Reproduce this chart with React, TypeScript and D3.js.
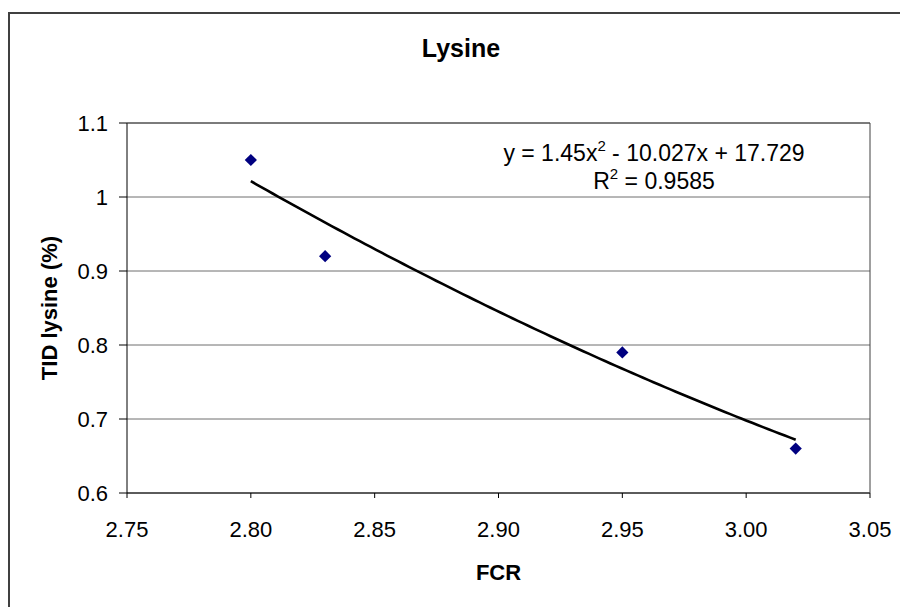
import React from "react";
import * as d3 from "d3";

const fcr = [2.8, 2.83, 2.95, 3.02];
const lysine = [1.05, 0.92, 0.79, 0.66];
const xTicks = [2.75, 2.8, 2.85, 2.9, 2.95, 3.0, 3.05];
const yTicks = [0.6, 0.7, 0.8, 0.9, 1.0, 1.1];
const trendCoef = [1.45, -10.027, 17.729]; // a, b, c
const r2Label = "0.9585";

const W = 900;
const H = 607;
const left = 127;
const right = 870;
const top = 123;
const bottom = 493;
const font = "Liberation Sans, Arial, sans-serif";

export default function App() {
  const x = d3.scaleLinear().domain([2.75, 3.05]).range([left, right]);
  const y = d3.scaleLinear().domain([0.6, 1.1]).range([bottom, top]);

  const xMin = d3.min(fcr) as number;
  const xMax = d3.max(fcr) as number;
  const samples = d3.range(0, 101).map((i) => xMin + ((xMax - xMin) * i) / 100);
  const trendPts: [number, number][] = samples.map((v) => [
    v,
    trendCoef[0] * v * v + trendCoef[1] * v + trendCoef[2],
  ]);
  const line = d3
    .line<[number, number]>()
    .x((d) => x(d[0]))
    .y((d) => y(d[1]));

  const diamond = d3.symbol().type(d3.symbolDiamond2).size(95)();

  return (
    <svg
      width={W}
      height={H}
      style={{ position: "absolute", left: 0, top: 0, background: "#fff" }}
      fontFamily={font}
    >
      <rect x={0} y={0} width={W} height={H} fill="#fff" />
      <rect x={9} y={13} width={W + 20} height={H + 20} fill="#fff" stroke="#404040" strokeWidth={2} />
      <text x={461} y={57} textAnchor="middle" fontSize={25} fontWeight="bold">
        Lysine
      </text>

      {yTicks.map((t) => (
        <g key={"y" + t}>
          <line x1={left} x2={right} y1={y(t)} y2={y(t)} stroke="#6f6f6f" strokeWidth={1} />
          <line x1={119} x2={left} y1={y(t)} y2={y(t)} stroke="#000" strokeWidth={1} />
          <text x={108} y={y(t) + 8} textAnchor="end" fontSize={22}>
            {t === 1 ? "1" : d3.format(".1f")(t)}
          </text>
        </g>
      ))}
      {xTicks.map((t) => (
        <g key={"x" + t}>
          <line x1={x(t)} x2={x(t)} y1={bottom} y2={bottom + 5} stroke="#000" strokeWidth={1} />
          <text x={x(t)} y={537} textAnchor="middle" fontSize={22}>
            {d3.format(".2f")(t)}
          </text>
        </g>
      ))}
      <line x1={left} x2={left} y1={top} y2={bottom} stroke="#000" strokeWidth={1} />
      <line x1={left} x2={right} y1={bottom} y2={bottom} stroke="#000" strokeWidth={1} />
      <line x1={right} x2={right} y1={top} y2={bottom} stroke="#404040" strokeWidth={1} />
      <line x1={left} x2={right} y1={top} y2={top} stroke="#404040" strokeWidth={1} />

      <path d={line(trendPts) || ""} fill="none" stroke="#000" strokeWidth={2.6} />

      {fcr.map((v, i) => (
        <path
          key={"p" + i}
          d={diamond || ""}
          transform={`translate(${x(v)},${y(lysine[i])})`}
          fill="#000080"
        />
      ))}

      <text x={654} y={161} textAnchor="middle" fontSize={23}>
        {`y = ${trendCoef[0]}x`}
        <tspan dy={-10} fontSize={15}>2</tspan>
        <tspan dy={10}>{` - ${Math.abs(trendCoef[1])}x + ${trendCoef[2]}`}</tspan>
      </text>
      <text x={654} y={189} textAnchor="middle" fontSize={23}>
        R<tspan dy={-10} fontSize={15}>2</tspan>
        <tspan dy={10}>{` = ${r2Label}`}</tspan>
      </text>

      <text
        transform={`translate(57,${(top + bottom) / 2}) rotate(-90)`}
        textAnchor="middle"
        fontSize={22}
        fontWeight="bold"
      >
        TID lysine (%)
      </text>
      <text x={(left + right) / 2} y={580} textAnchor="middle" fontSize={22} fontWeight="bold">
        FCR
      </text>
    </svg>
  );
}
